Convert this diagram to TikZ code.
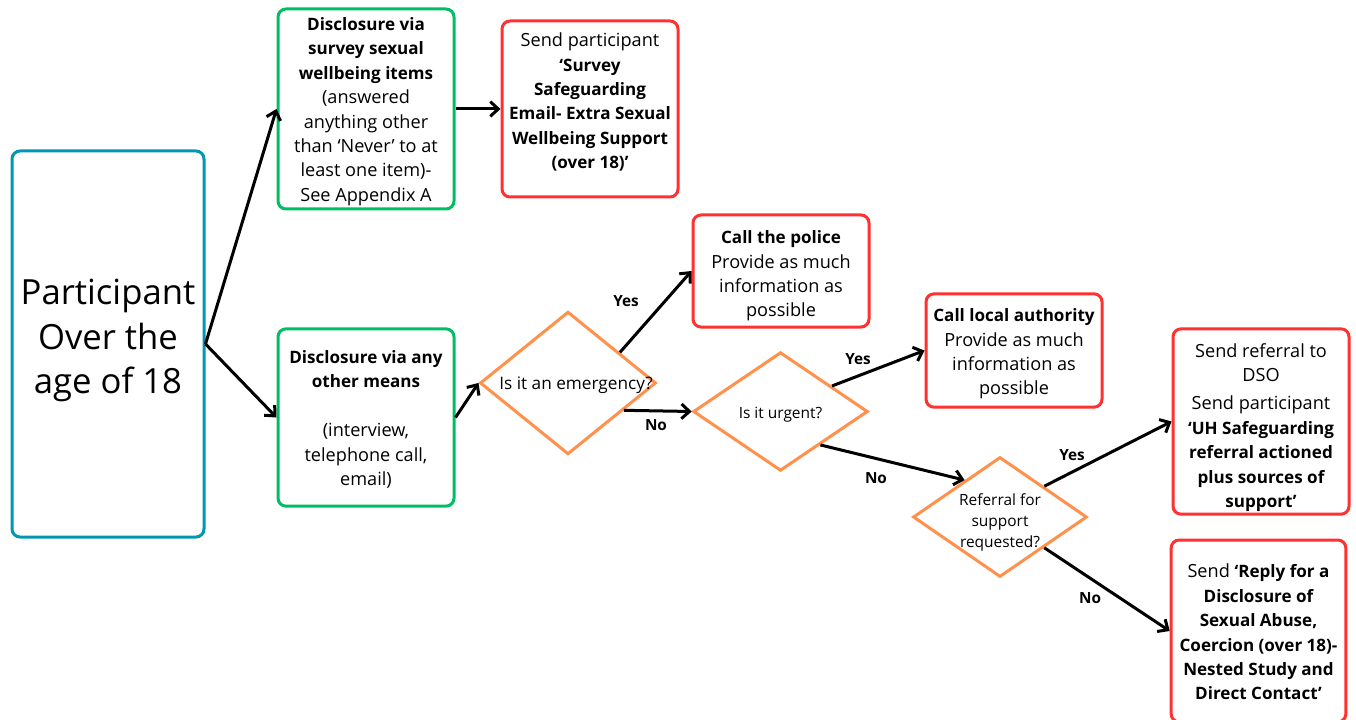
\documentclass[tikz,border=0pt]{standalone}
\usepackage{fontspec}
\setmainfont{Open Sans}
\usetikzlibrary{shapes.geometric,arrows.meta,calc}
\definecolor{cteal}{HTML}{0097B2}
\definecolor{cgreen}{HTML}{00BF63}
\definecolor{cred}{HTML}{FF3131}
\definecolor{corange}{HTML}{FF914D}
\newcommand{\Bt}[1]{{\fontsize{12.8}{18.3}\selectfont\bfseries #1}}
\tikzset{
  box/.style={draw, line width=2.25pt, rounded corners=6pt,
    minimum width=132pt, inner sep=0pt},
  boxtext/.style={align=center, inner sep=0pt, font=\fontsize{13.6}{18.3}\selectfont},
  gbox/.style={box, draw=cgreen},
  rbox/.style={box, draw=cred},
  pbox/.style={box, draw=cteal, minimum width=144pt, minimum height=289.5pt},
  dia/.style={draw=corange, line width=2.25pt, diamond, inner sep=0pt},
  diatext/.style={align=center, inner sep=0pt},
  conn/.style={line width=2.25pt, -{Straight Barb[length=6pt,width=11pt]}},
  lab/.style={font=\fontsize{11.5}{13}\selectfont\bfseries, inner sep=0pt}
}
\begin{document}
\begin{tikzpicture}[x=0.75pt,y=-0.75pt]
\useasboundingbox (0,0) rectangle (1356,720);
\fill[white] (0,0) rectangle (1356,720);

\node[pbox, label={[boxtext, font=\fontsize{26}{33.4}\selectfont, yshift=2.6pt]center:{Participant\\Over the\\age of 18}}] (part) at (108,344) {};

\node[gbox, minimum height=150pt, label={[boxtext, yshift=-1.9pt]center:{\Bt{Disclosure via}\\\Bt{survey sexual}\\\Bt{wellbeing items}\\(answered\\anything other\\than ‘Never’ to at\\least one item)-\\See Appendix A}}] (g1) at (366,109) {};

\node[rbox, minimum height=132pt, label={[boxtext, yshift=5.2pt]center:{Send participant\\\Bt{‘Survey}\\\Bt{Safeguarding}\\\Bt{Email- Extra Sexual}\\\Bt{Wellbeing Support}\\\Bt{(over 18)’}}}] (r1) at (590,109) {};

\node[gbox, minimum height=133pt, label={[boxtext, yshift=-1.5pt]center:{\Bt{Disclosure via any}\\\Bt{other means}\\\mbox{}\\(interview,\\telephone call,\\email)}}] (g2) at (366,417.5) {};

\node[dia, minimum width=132pt, minimum height=107pt,
  label={[diatext, font=\fontsize{12.9}{15}\selectfont, xshift=6pt, yshift=-1.5pt]center:Is it an emergency?}] (d1) at (568,383) {};

\node[rbox, minimum height=84pt, label={[boxtext, yshift=-3.8pt]center:{\Bt{Call the police}\\Provide as much\\information as\\possible}}] (police) at (781,271) {};

\node[dia, minimum width=131pt, minimum height=89pt,
  label={[diatext, font=\fontsize{11.6}{14}\selectfont, yshift=-2.2pt]center:Is it urgent?}] (d2) at (780.5,411.5) {};

\node[rbox, minimum height=85pt, label={[boxtext, yshift=-2.6pt]center:{\Bt{Call local authority}\\Provide as much\\information as\\possible}}] (local) at (1014,350.5) {};

\node[dia, minimum width=130.5pt, minimum height=90pt,
  label={[diatext, font=\fontsize{11.6}{15.75}\selectfont, yshift=-4.1pt]center:{Referral for\\support\\requested?}}] (d3) at (1000,517) {};

\node[rbox, minimum height=139pt, label={[boxtext, yshift=-4.5pt]center:{Send referral to\\DSO\\[3pt]Send participant\\\Bt{‘UH Safeguarding}\\\Bt{referral actioned}\\\Bt{plus sources of}\\\Bt{support’}}}] (dso) at (1261,421.5) {};

\node[rbox, minimum width=131pt, minimum height=136.5pt, label={[boxtext, yshift=-0.8pt]center:{Send \Bt{‘Reply for a}\\\Bt{Disclosure of}\\\Bt{Sexual Abuse,}\\\Bt{Coercion (over 18)-}\\\Bt{Nested Study and}\\\Bt{Direct Contact’}}}] (reply) at (1258.5,631) {};

% connectors
\draw[conn] (part.east) -- (g1.west);
\draw[conn] (part.east) -- (g2.west);
\draw[conn] (g1.east) -- (r1.west);
\draw[conn] (g2.east) -- (d1.west);
\draw[conn] ($(d1.north)!0.58!(d1.east)$) -- (police.west);
\draw[conn] ($(d1.east)!0.375!(d1.south)$) -- (d2.west);
\draw[conn] ($(d2.east)!0.42!(d2.north)$) -- (local.west);
\draw[conn] ($(d2.east)!0.55!(d2.south)$) -- ($(d3.west)!0.6!(d3.north)$);
\draw[conn] ($(d3.north)!0.5!(d3.east)$) -- (dso.west);
\draw[conn] ($(d3.east)!0.5!(d3.south)$) -- (reply.west);

% labels
\node[lab] (y1) at (626,301) {Yes};
\node[lab] (n1) at (656,425) {No};
\node[lab] (y2) at (858,359) {Yes};
\node[lab] (n2) at (876,478) {No};
\node[lab] (y3) at (1072,455) {Yes};
\node[lab] (n3) at (1090,598) {No};
\end{tikzpicture}
\end{document}
